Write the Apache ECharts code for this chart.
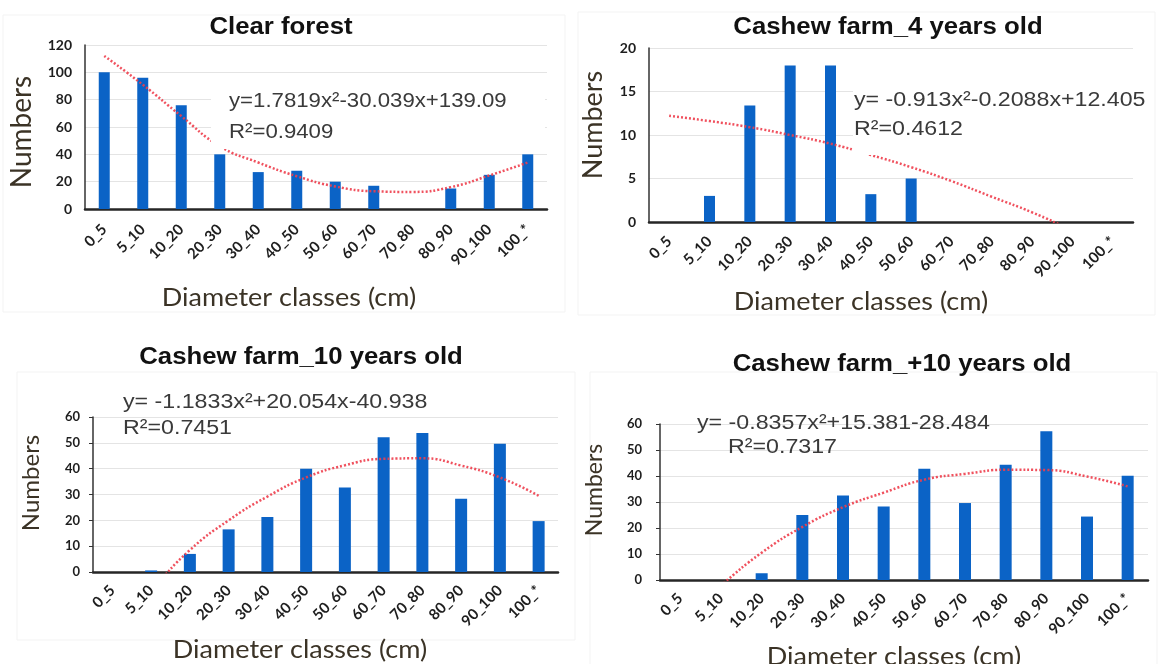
<!DOCTYPE html>
<html>
<head>
<meta charset="utf-8">
<script src="https://cdn.jsdelivr.net/npm/echarts@6/dist/echarts.min.js"></script>
<style>
html,body{margin:0;padding:0;background:#fff;}
#chart{width:1158px;height:664px;}
</style>
</head>
<body>
<div id="chart"></div>
<script>
// ---------- data ----------
const categories = ['0_5','5_10','10_20','20_30','30_40','40_50','50_60','60_70','70_80','80_90','90_100','100_*'];

const titles = ['Clear forest','Cashew farm_4 years old','Cashew farm_10 years old','Cashew farm_+10 years old'];

const clearForest      = [100, 96, 76, 40, 27, 28, 20, 17, 0, 15, 25, 40];
const clearForestTrend = [112, 91, 68, 46, 34, 24, 16.5, 13, 12.5, 16, 24.5, 34];

const cashew4      = [0, 3, 13.4, 18, 18, 3.2, 5, 0, 0, 0, 0, 0];
const cashew4Trend = [12.2, 11.6, 10.9, 10.0, 9.0, 7.7, 6.3, 4.7, 2.9, 1.1, -1.0, -3.3];

const cashew10      = [0, 0.6, 7, 16.5, 21.3, 40, 32.7, 52.2, 53.8, 28.4, 49.6, 19.7];
const cashew10Trend = [-22, -7, 8.5, 20, 29.2, 36.6, 41.3, 43.8, 44, 41.2, 36.6, 29.5];

const cashewPlus10      = [0, 0, 2.6, 25, 32.5, 28.3, 42.8, 29.6, 44.3, 57.2, 24.4, 40.1];
const cashewPlus10Trend = [-15, -2, 10.5, 20.4, 28, 33.6, 38.6, 40.8, 42.4, 42.3, 39.8, 36];

const yTicksClear   = [0, 20, 40, 60, 80, 100, 120];
const yTicks4       = [0, 5, 10, 15, 20];
const yTicks10      = [0, 10, 20, 30, 40, 50, 60];
const yTicksPlus10  = [0, 10, 20, 30, 40, 50, 60];

const equations = [
  ['y=1.7819x²-30.039x+139.09', 'R²=0.9409'],
  ['y= -0.913x²-0.2088x+12.405', 'R²=0.4612'],
  ['y= -1.1833x²+20.054x-40.938', 'R²=0.7451'],
  ['y= -0.8357x²+15.381-28.484', 'R²=0.7317']
];
const xName = 'Diameter classes (cm)';
const yName = 'Numbers';

// ---------- layout ----------
const barSets   = [clearForest, cashew4, cashew10, cashewPlus10];
const trendSets = [clearForestTrend, cashew4Trend, cashew10Trend, cashewPlus10Trend];
const tickSets  = [yTicksClear, yTicks4, yTicks10, yTicksPlus10];

const grids = [
  {left: 85,  top: 45,  width: 462, height: 164},
  {left: 649, top: 48,  width: 484, height: 174},
  {left: 93,  top: 417, width: 465, height: 155},
  {left: 660, top: 424, width: 488, height: 156}
];
const xLabelMargin = [18, 17, 16, 16];
const titlePos = [[281, 28], [888, 28], [301, 358], [902, 365]];
const eqPos = [ // [x1,y1,x2,y2]
  [229, 101, 229, 132],
  [854, 100, 854, 129],
  [123, 402, 123, 428],
  [697, 423, 728, 447]
];
const eqScale = [1.11, 1.16, 1.16, 1.16];
const numbersPos = [[22, 132, 28], [593, 125, 27], [31, 483, 24], [595, 490, 23]];
const xNamePos = [[289, 298], [861, 302], [300, 650], [894, 657]];
const maskRects = [
  {x: 211, y: 86, width: 334, height: 63},
  {x: 853, y: 84, width: 300, height: 71}
];
const frames = [
  {x: 3, y: 15, width: 562, height: 297},
  {x: 578, y: 12, width: 577, height: 303},
  {x: 17, y: 372, width: 558, height: 268},
  {x: 590, y: 372, width: 567, height: 300}
];

const chart = echarts.init(document.getElementById('chart'), null, {renderer: 'canvas'});

const graphic = [];
frames.forEach(f => graphic.push({
  type: 'rect', shape: f, z: 0, silent: true,
  style: {fill: 'none', stroke: '#f3f3f3', lineWidth: 1}
}));
maskRects.forEach(r => graphic.push({
  type: 'rect', shape: r, z: 50, silent: true, style: {fill: '#fff'}
}));
function txt(text, x, y, font, fill, align, scaleX, extra) {
  return Object.assign({
    type: 'text', x: x, y: y, z: 60, silent: true,
    scaleX: scaleX || 1,
    style: {
      text: text, font: font, fill: fill,
      align: align, verticalAlign: 'middle',
      textAlign: align, textVerticalAlign: 'middle'
    }
  }, extra || {});
}
titles.forEach((t, i) => {
  graphic.push(txt(t, titlePos[i][0], titlePos[i][1], 'bold 23px "Liberation Sans", Arial, sans-serif', '#111', 'center', 1.12));
  const e = eqPos[i];
  graphic.push(txt(equations[i][0], e[0], e[1], '20px "Liberation Sans", Arial, sans-serif', '#3a3a3a', 'left', eqScale[i]));
  graphic.push(txt(equations[i][1], e[2], e[3], '20px "Liberation Sans", Arial, sans-serif', '#3a3a3a', 'left', eqScale[i]));
  const n = numbersPos[i];
  graphic.push(txt(yName, n[0], n[1], n[2] + 'px Lato, "Open Sans", sans-serif', '#3b3326', 'center', 1, {rotation: Math.PI / 2}));
  const xn = xNamePos[i];
  graphic.push(txt(xName, xn[0], xn[1], '25px Lato, "Open Sans", sans-serif', '#3b3326', 'center', 1.08));
});

const option = {
  animation: false,
  backgroundColor: '#ffffff',
  grid: grids.map(g => Object.assign({containLabel: false}, g)),
  xAxis: grids.map((g, i) => ({
    type: 'category', gridIndex: i, data: categories,
    axisLine: {lineStyle: {color: '#262626', width: 2.5}},
    axisTick: {show: false},
    axisLabel: {
      interval: 0, rotate: 45, margin: xLabelMargin[i],
      fontSize: 15, fontWeight: 'bold', color: '#1e1e1e',
      fontFamily: 'Lato, "Open Sans", sans-serif'
    },
    splitLine: {show: false}
  })),
  yAxis: grids.map((g, i) => {
    const t = tickSets[i];
    return {
      type: 'value', gridIndex: i,
      min: t[0], max: t[t.length - 1], interval: t[1] - t[0],
      axisLine: {show: true, lineStyle: {color: '#333', width: 1.5}},
      axisTick: {show: i >= 2, length: 4, lineStyle: {color: '#333'}},
      axisLabel: {
        margin: i === 3 ? 18 : 13,
        fontSize: i < 2 ? 14 : 13, fontWeight: 'bold', color: '#1e1e1e',
        fontFamily: 'Lato, "Open Sans", sans-serif'
      },
      splitLine: {show: true, lineStyle: {color: '#e4e4e4', width: 1}}
    };
  }),
  series: [],
  graphic: graphic
};

barSets.forEach((d, i) => {
  option.series.push({
    type: 'bar', xAxisIndex: i, yAxisIndex: i, data: d,
    barWidth: i < 2 ? 11 : 12,
    itemStyle: {color: '#0b63c6'},
    z: 2
  });
  option.series.push({
    type: 'line', xAxisIndex: i, yAxisIndex: i, data: trendSets[i],
    smooth: true, symbol: 'none', clip: true,
    lineStyle: {color: '#ee3e4c', width: 2.5, type: [2, 2], opacity: 0.9},
    z: 3
  });
});

chart.setOption(option);
</script>
</body>
</html>
